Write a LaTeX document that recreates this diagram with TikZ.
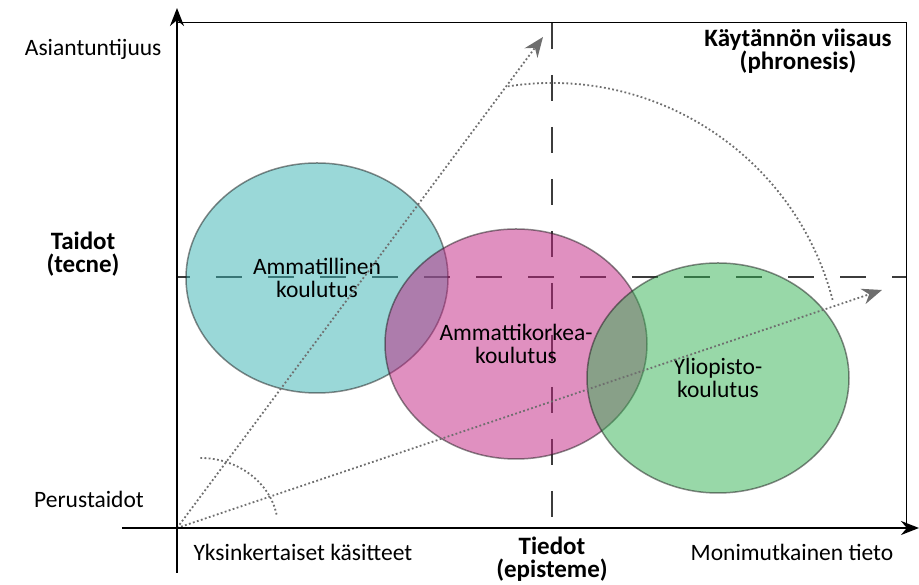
\documentclass[tikz,border=0pt]{standalone}
\usepackage{fontspec}
\setmainfont{Carlito}
\usepackage{xcolor}
\usetikzlibrary{shapes,shapes.geometric,arrows.meta,positioning}

\definecolor{tealfill}{RGB}{53,177,177}
\definecolor{pinkfill}{RGB}{193,33,129}
\definecolor{greenfill}{RGB}{49,177,81}
\definecolor{dotgray}{RGB}{110,110,110}
\definecolor{dashgray}{RGB}{60,60,60}

\begin{document}
\begin{tikzpicture}[
    x=1pt, y=1pt,
    every node/.style={font=\fontsize{23.5}{23}\selectfont},
    heading/.style={font=\fontsize{25}{23}\selectfont\bfseries, align=center},
    school/.style={ellipse, draw=black!90, draw opacity=0.5, line width=1.5pt, fill opacity=0.5, text opacity=1, minimum width=262pt, minimum height=230pt, inner sep=0pt, align=center},
    axis/.style={-{Stealth[length=18pt,width=14pt]}, line width=2pt},
    frame/.style={line width=1pt},
    guide/.style={dashgray, line width=1.3pt, dash pattern=on 26pt off 26pt},
    route/.style={dotgray, line width=1.8pt, dash pattern=on 1.8pt off 2.4pt},
    routearrow/.style={route, -{Stealth[length=20pt,width=16pt]}}
]
\useasboundingbox (-177,-57) rectangle (742,528);

\coordinate (origin) at (0,0);
\coordinate (expertise) at (366,491);
\coordinate (complexity) at (705,238);

% Frame and quadrant guides
\draw[frame] (0,505) -- (729,505) -- (729,0);
\draw[guide] (375,505) -- (375,8);
\draw[guide, dash phase=13pt] (0,251) -- (729,251);

% Education levels
\node[school, fill=tealfill] (vocational) at (140,250) {Ammatillinen\\koulutus};
\node[school, fill=pinkfill] (polytechnic) at (339,184) {Ammattikorkea-\\koulutus};
\node[school, fill=greenfill] (university) at (541,150) {Yliopisto-\\koulutus};

% Growth directions
\draw[routearrow] (origin) -- (expertise);
\draw[routearrow] (origin) -- (complexity);
\draw[route] (655.6,228.1) arc[start angle=14.6, end angle=98.7, radius=290];
\draw[route] (99.6,13.4) arc[start angle=11, end angle=90, x radius=78, y radius=70];

% Axes
\draw[axis] (0,-45) -- (0,520);
\draw[axis] (-55,0) -- (742,0);

% Axis labels
\node[anchor=east] (expert) at (-12,479) {Asiantuntijuus};
\node[heading] (skills) at (-94,274) {Taidot\\(tecne)};
\node (basic) at (-88,29) {Perustaidot};
\node[anchor=west] (simple) at (13,-24) {Yksinkertaiset käsitteet};
\node[heading] (knowledge) at (375,-31) {Tiedot\\(episteme)};
\node (complex) at (615,-24) {Monimutkainen tieto};
\node[heading] (wisdom) at (621,477) {Käytännön viisaus\\(phronesis)};

\end{tikzpicture}
\end{document}
